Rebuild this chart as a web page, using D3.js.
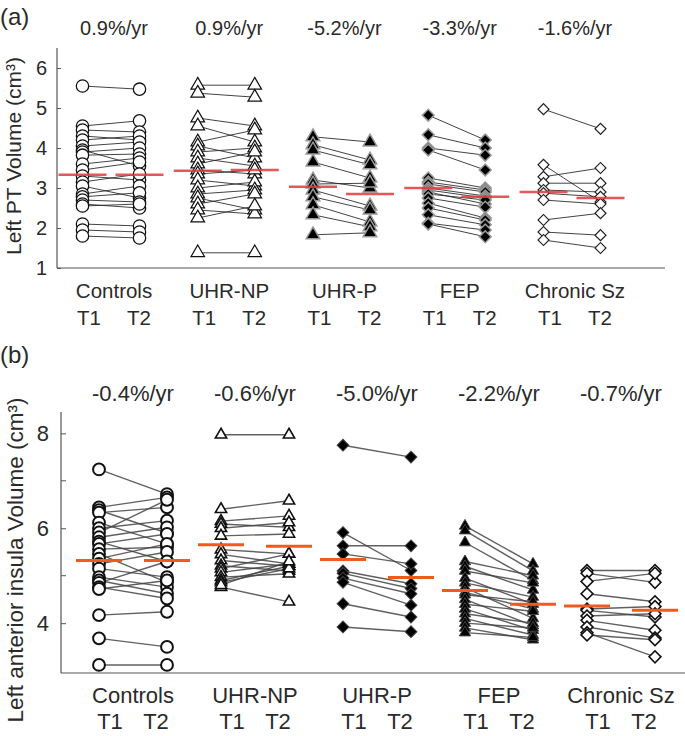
<!DOCTYPE html>
<html><head><meta charset="utf-8">
<script src="https://cdn.jsdelivr.net/npm/d3@7"></script>
<style>body{margin:0;background:#fff}svg text{font-family:"Liberation Sans",Arial,sans-serif;fill:#2a2a2a}</style>
</head><body><svg id="c" width="685" height="736"></svg>
<script>
const groups = ["Controls","UHR-NP","UHR-P","FEP","Chronic Sz"];
const timeLabels = ["T1","T2"];
const ratesA = ["0.9%/yr","0.9%/yr","-5.2%/yr","-3.3%/yr","-1.6%/yr"];
const ratesB = ["-0.4%/yr","-0.6%/yr","-5.0%/yr","-2.2%/yr","-0.7%/yr"];
const ticksA = [1,2,3,4,5,6];
const ticksB = [4,6,8];
const minorTicksB = [5,7];
// Panel (a): Left PT volume, [T1, T2] per subject
const aControls = [[5.55,5.47],[4.55,4.68],[4.45,4.4],[4.3,4.2],[4.2,4.3],[4.05,4.15],[3.95,3.55],[3.9,4.0],[3.82,3.85],[3.6,3.75],[3.45,3.65],[3.3,3.2],[3.15,3.35],[3.05,2.75],[2.85,3.05],[2.78,2.88],[2.7,2.65],[2.6,2.5],[2.55,2.6],[2.1,2.05],[1.95,1.9],[1.8,1.75]];
const aUhrNp = [[5.57,5.57],[5.37,5.27],[4.75,4.55],[4.55,4.15],[4.15,4.45],[4.05,3.75],[3.9,4.0],[3.75,3.55],[3.6,3.9],[3.45,3.35],[3.35,3.45],[3.2,3.05],[3.0,3.15],[2.85,2.95],[2.75,2.45],[2.6,2.85],[2.45,2.35],[2.25,2.55],[1.38,1.38]];
const aUhrP = [[4.28,4.15],[4.08,3.7],[3.95,3.58],[3.65,3.25],[3.2,3.0],[3.1,3.12],[2.95,2.55],[2.78,2.45],[2.58,2.15],[2.33,2.03],[1.83,1.88]];
const aFep = [[4.82,4.2],[4.33,4.0],[4.0,3.82],[3.95,3.45],[3.25,3.0],[3.15,2.95],[3.1,2.9],[3.0,2.8],[2.95,2.75],[2.9,2.6],[2.85,2.7],[2.75,2.52],[2.62,2.25],[2.5,2.2],[2.33,2.08],[2.12,1.95],[2.1,1.78]];
const aChronic = [[4.97,4.48],[3.58,2.65],[3.28,3.5],[3.12,3.12],[2.95,2.9],[2.87,2.78],[2.7,2.6],[2.2,2.37],[1.9,1.82],[1.7,1.5]];
const meansA = [[3.33,3.33],[3.43,3.45],[3.03,2.85],[3.0,2.78],[2.9,2.75]];
// Panel (b): Left anterior insula volume
const bControls = [[7.24,6.72],[6.44,6.65],[6.38,5.9],[6.33,6.44],[6.12,5.67],[6.0,6.16],[5.91,6.6],[5.81,6.02],[5.72,5.3],[5.67,5.88],[5.56,5.6],[5.46,4.86],[5.36,5.67],[5.25,5.5],[5.15,4.97],[4.97,4.76],[4.9,4.62],[4.85,5.3],[4.76,4.52],[4.72,4.9],[4.17,4.24],[3.68,3.5],[3.12,3.12]];
const bUhrNp = [[7.97,7.97],[6.4,6.58],[6.15,6.26],[6.09,6.02],[6.0,6.12],[5.84,5.88],[5.55,5.46],[5.45,5.25],[5.32,5.2],[5.21,5.1],[5.15,5.46],[5.07,5.25],[4.97,5.04],[4.9,5.2],[4.86,5.15],[4.76,4.45],[4.8,5.3]];
const bUhrP = [[7.75,7.5],[5.91,5.11],[5.63,5.63],[5.46,5.25],[5.1,4.83],[5.05,4.73],[4.95,4.62],[4.86,4.38],[4.41,4.13],[3.92,3.82]];
const bFep = [[6.05,5.25],[5.95,5.1],[5.7,4.9],[5.3,5.0],[5.2,4.7],[5.1,4.85],[4.95,4.4],[4.85,4.55],[4.75,4.1],[4.65,4.3],[4.6,4.45],[4.5,3.95],[4.4,4.25],[4.3,3.85],[4.2,4.0],[4.1,3.75],[4.0,3.9],[3.9,3.65],[3.8,3.7]];
const bChronic = [[5.11,5.11],[5.05,4.86],[4.88,5.05],[4.62,4.45],[4.3,4.35],[4.27,4.13],[4.15,4.2],[4.06,3.85],[3.92,3.69],[3.8,3.29],[3.75,3.65]];
const meansB = [[5.32,5.32],[5.65,5.62],[5.34,4.96],[4.69,4.40],[4.36,4.27]];

const svg = d3.select("#c");

function panel(cfg){
  const g = svg.append("g");
  const y = d3.scaleLinear().domain(cfg.domain).range([cfg.bottom, cfg.top]);
  const gx = d3.scalePoint().domain(groups).range(cfg.groupRange);
  const tx = d3.scalePoint().domain(timeLabels).range([-cfg.pairHalf, cfg.pairHalf]);
  const lx = d3.scalePoint().domain(timeLabels).range([-cfg.labelHalf, cfg.labelHalf]);
  g.append("line").attr("x1",cfg.left).attr("x2",cfg.left).attr("y1",cfg.top).attr("y2",cfg.bottom).attr("stroke","#555").attr("stroke-width",1.2);
  g.append("line").attr("x1",cfg.left).attr("x2",cfg.right).attr("y1",cfg.bottom).attr("y2",cfg.bottom).attr("stroke","#555").attr("stroke-width",1.2);
  const yAxis = d3.axisLeft(y).tickValues(cfg.ticks).tickSize(-cfg.tickLen).tickPadding(cfg.tickPad).tickFormat(d3.format("d"));
  const ya = g.append("g").attr("transform",`translate(${cfg.left},0)`).call(yAxis);
  ya.select(".domain").remove();
  ya.selectAll(".tick line").attr("stroke","#555");
  ya.selectAll(".tick text").attr("font-size",cfg.tickFont).attr("fill","#2a2a2a").style("font-family","Liberation Sans, Arial, sans-serif");
  if (cfg.minor) {
    g.selectAll(".minor").data(cfg.minor).join("line").attr("x1",cfg.left).attr("x2",cfg.left+cfg.tickLen)
      .attr("y1",d=>y(d)).attr("y2",d=>y(d)).attr("stroke","#555");
  }
  g.append("text").attr("transform",`translate(${cfg.ylabX},${cfg.ylabY}) rotate(-90)`).attr("text-anchor","middle")
    .attr("font-size",cfg.ylabFont).text(cfg.ylab);
  g.append("text").attr("x",0).attr("y",cfg.tagY).attr("font-size",cfg.tagFont).text(cfg.tag);
  g.selectAll(".rate").data(groups).join("text").attr("x",d=>gx(d)+cfg.labelShift).attr("y",cfg.rateY)
    .attr("text-anchor","middle").attr("font-size",cfg.rateFont).text((d,i)=>cfg.rates[i]);
  g.selectAll(".cat").data(groups).join("text").attr("x",d=>gx(d)+cfg.labelShift).attr("y",cfg.catY)
    .attr("text-anchor","middle").attr("font-size",cfg.catFont).text(d=>d);
  groups.forEach(gr=>{
    timeLabels.forEach(t=>{
      g.append("text").attr("x",gx(gr)+cfg.labelShift+lx(t)).attr("y",cfg.tY).attr("text-anchor","middle")
        .attr("font-size",cfg.catFont).text(t);
    });
  });
  cfg.data.forEach((rows,i)=>{
    const gr = groups[i];
    const x1 = gx(gr)+tx("T1"), x2 = gx(gr)+tx("T2");
    const st = cfg.styles[i];
    const dg = g.append("g");
    dg.selectAll("line").data(rows).join("line").attr("x1",x1).attr("x2",x2).attr("y1",d=>y(d[0])).attr("y2",d=>y(d[1]))
      .attr("stroke",cfg.lineColor).attr("stroke-width",cfg.lineW).attr("stroke-opacity",0.85);
    const sym = d3.symbol().type(st.type==="circle"?d3.symbolCircle:st.type==="triangle"?d3.symbolTriangle:d3.symbolSquare).size(st.size);
    const pts = [];
    rows.forEach(d=>{pts.push([x1,d[0]]);pts.push([x2,d[1]]);});
    dg.selectAll("path").data(pts).join("path").attr("d",sym)
      .attr("transform",d=>`translate(${d[0]},${y(d[1])})${st.type==="diamond"?" rotate(45)":""}`)
      .attr("fill",st.fill).attr("stroke",st.stroke).attr("stroke-width",st.sw);
  });
  cfg.means.forEach((m,i)=>{
    const gr = groups[i];
    timeLabels.forEach((t,j)=>{
      const cx = gx(gr)+tx(t);
      g.append("line").attr("x1",cx-cfg.meanHalf).attr("x2",cx+cfg.meanHalf).attr("y1",y(m[j])).attr("y2",y(m[j]))
        .attr("stroke",cfg.meanColor).attr("stroke-width",cfg.meanW).attr("stroke-opacity",cfg.meanOp);
    });
  });
}

panel({
  domain:[1,6.5], top:48, bottom:268, left:57, right:665, groupRange:[111,572], pairHalf:28.5, labelHalf:25, labelShift:3,
  ticks:ticksA, tickLen:4, tickPad:10, tickFont:20, ylab:"Left PT Volume (cm³)", ylabX:21, ylabY:156, ylabFont:21,
  tag:"(a)", tagY:25, tagFont:24, rates:ratesA, rateY:35, rateFont:20, catY:298, tY:325, catFont:20.5,
  data:[aControls,aUhrNp,aUhrP,aFep,aChronic],
  styles:[{type:"circle",size:120,fill:"#fff",stroke:"#111",sw:1.3},{type:"triangle",size:80,fill:"#fff",stroke:"#111",sw:1.2},
    {type:"triangle",size:80,fill:"#000",stroke:"#999",sw:1.5},{type:"diamond",size:70,fill:"#000",stroke:"#999",sw:1.5},
    {type:"diamond",size:60,fill:"#fff",stroke:"#222",sw:1.2}],
  lineColor:"#222", lineW:1, means:meansA, meanHalf:24, meanColor:"#e0393e", meanW:2.5, meanOp:0.85
});
panel({
  domain:[2.95,8.45], top:412, bottom:673, left:61, right:685, groupRange:[133,621], pairHalf:34, labelHalf:23, labelShift:0,
  ticks:ticksB, minor:minorTicksB, tickLen:5, tickPad:12, tickFont:22, ylab:"Left anterior insula Volume (cm³)", ylabX:23, ylabY:560, ylabFont:22.5,
  tag:"(b)", tagY:363, tagFont:24, rates:ratesB, rateY:401, rateFont:22, catY:703, tY:729, catFont:22,
  data:[bControls,bUhrNp,bUhrP,bFep,bChronic],
  styles:[{type:"circle",size:110,fill:"#fff",stroke:"#111",sw:2},{type:"triangle",size:55,fill:"#fff",stroke:"#111",sw:1.6},
    {type:"diamond",size:70,fill:"#000",stroke:"#444",sw:1},{type:"triangle",size:55,fill:"#000",stroke:"#444",sw:1},
    {type:"diamond",size:70,fill:"#fff",stroke:"#111",sw:1.6}],
  lineColor:"#444", lineW:1.4, means:meansB, meanHalf:23, meanColor:"#f05a1e", meanW:3, meanOp:1
});
</script></body></html>
